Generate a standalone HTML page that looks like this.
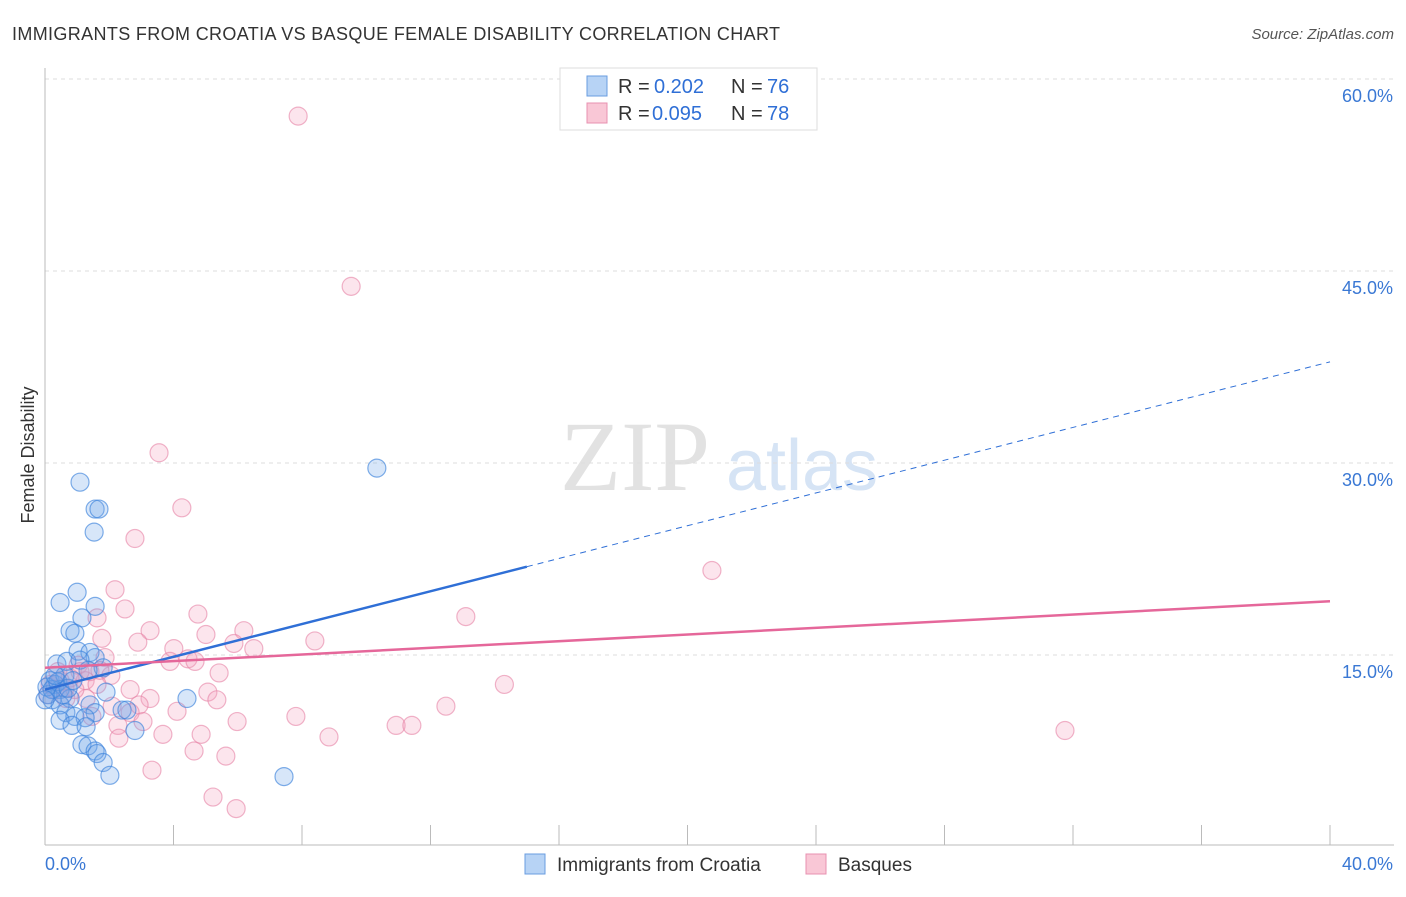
<!DOCTYPE html>
<html><head><meta charset="utf-8"><style>
body{margin:0;background:#fff;font-family:"Liberation Sans",sans-serif;}
</style></head><body>
<svg id="c" width="1406" height="892" xmlns="http://www.w3.org/2000/svg" font-family="Liberation Sans, sans-serif">
<text x="12" y="40" font-size="18" fill="#333" textLength="768">IMMIGRANTS FROM CROATIA VS BASQUE FEMALE DISABILITY CORRELATION CHART</text>
<text x="1394" y="39" font-size="15" fill="#555" font-style="italic" text-anchor="end">Source: ZipAtlas.com</text>
<text x="635" y="490" font-size="100" fill="#e2e2e2" style="font-family:'Liberation Serif',serif" text-anchor="middle">ZIP</text>
<text x="802" y="490" font-size="72" fill="#d6e4f5" text-anchor="middle">atlas</text>
<g id="grid"></g>
<g id="axes"></g>
<g id="pts"></g>
<g id="lines"></g>
<text x="34" y="455" font-size="18" fill="#333" text-anchor="middle" transform="rotate(-90 34 455)">Female Disability</text>
<g>
<rect x="560" y="68" width="257" height="62" fill="#fff" stroke="#ddd"/>
<rect x="587" y="76" width="20" height="20" fill="#b7d3f5" stroke="#6a9de0"/>
<text x="618" y="93" font-size="20" fill="#333">R = </text><text x="654" y="93" font-size="20" fill="#2f6fd6">0.202</text>
<text x="731" y="93" font-size="20" fill="#333">N = </text><text x="767" y="93" font-size="20" fill="#2f6fd6">76</text>
<rect x="587" y="103" width="20" height="20" fill="#f9c7d6" stroke="#e890b0"/>
<text x="618" y="120" font-size="20" fill="#333">R = </text><text x="652" y="120" font-size="20" fill="#2f6fd6">0.095</text>
<text x="731" y="120" font-size="20" fill="#333">N = </text><text x="767" y="120" font-size="20" fill="#2f6fd6">78</text>
</g>
<g>
<rect x="525" y="854" width="20" height="20" fill="#b7d3f5" stroke="#6a9de0"/>
<text x="557" y="871" font-size="19" fill="#333">Immigrants from Croatia</text>
<rect x="806" y="854" width="20" height="20" fill="#f9c7d6" stroke="#e890b0"/>
<text x="838" y="871" font-size="19" fill="#333">Basques</text>
</g>
</svg>
<script>
const yTicks=[15,30,45,60];
const xTicks=[0,4,8,12,16,20,24,28,32,36,40];
const blueX=[1.09,1.56,1.68,1.53,10.33,1.0,0.47,1.56,1.15,0.78,0.93,1.03,1.4,1.56,0.37,0.68,1.09,1.81,1.34,0.16,0.31,0.47,0.62,0.09,0.22,0.78,0.47,1.9,4.42,1.4,1.56,0.65,0.93,1.25,2.4,2.55,0.47,0.84,1.28,2.8,1.15,1.34,1.56,1.62,1.81,2.02,7.44,0.06,0.22,0.4,0.56,0.72,0.87,0,0.31];
const blueY=[28.5,26.4,26.4,24.6,29.6,19.9,19.1,18.8,17.9,16.9,16.7,15.3,15.2,14.8,14.3,14.5,14.6,14.0,13.8,13.0,12.7,12.3,13.4,11.9,11.5,11.6,11.1,12.1,11.6,11.1,10.5,10.5,10.2,10.1,10.7,10.7,9.9,9.5,9.4,9.1,8.0,7.9,7.5,7.3,6.6,5.6,5.5,12.5,12.3,12.9,11.9,12.4,13.0,11.5,13.4];
const pinkX=[7.88,9.53,3.55,4.26,2.8,20.76,2.18,2.49,1.62,4.76,13.1,3.27,6.19,5.01,1.77,2.89,5.88,6.5,8.4,4.01,4.45,4.67,3.89,1.87,1.03,5.42,14.3,2.05,1.25,1.62,2.65,5.07,3.27,5.35,1.28,2.93,12.48,2.09,2.65,4.11,1.46,7.81,5.98,3.05,2.27,10.93,11.42,4.86,3.67,2.3,8.84,31.75,4.64,5.63,3.33,5.23,5.95,0.16,0.31,0.47,0.62,0.78,0.93,0.09,0.4,1.09,0.65,1.4,1.71];
const pinkY=[57.1,43.8,30.8,26.5,24.1,21.6,20.1,18.6,17.9,18.2,18.0,16.9,16.9,16.6,16.3,16.0,15.9,15.5,16.1,15.5,14.7,14.5,14.5,14.8,14.2,13.6,12.7,13.4,13.0,12.7,12.3,12.1,11.6,11.5,11.6,11.1,11.0,11.0,10.5,10.6,10.2,10.2,9.8,9.8,9.5,9.5,9.5,8.8,8.8,8.5,8.6,9.1,7.5,7.1,6.0,3.9,3.0,12.7,12.3,13.0,12.4,13.2,12.3,11.9,13.7,13.7,11.6,13.7,13.8];
const blueTrend=[12.3,37.9];
const pinkTrend=[14.0,19.2];
const blueSolidEnd=15.0;
const NS="http://www.w3.org/2000/svg";
const sx=v=>45+v*32.125, sy=v=>847-v*12.8;
function mk(t,a,p){const e=document.createElementNS(NS,t);for(const k in a)e.setAttribute(k,a[k]);p.appendChild(e);return e;}
const grid=document.getElementById('grid'),axes=document.getElementById('axes'),pts=document.getElementById('pts'),lines=document.getElementById('lines');
yTicks.forEach(t=>{
 const l=mk('line',{x1:45,x2:1394,y1:sy(t),y2:sy(t),stroke:'#ddd','stroke-dasharray':'4,4'},grid);
 
 
 const tx=mk('text',{x:1393,y:sy(t)+23,'font-size':18,fill:'#3a78d4','text-anchor':'end'},axes);
 tx.textContent=t.toFixed(1)+'%';
 
 
});
mk('line',{x1:45,x2:45,y1:68,y2:845,stroke:'#bbb'},axes);
mk('line',{x1:45,x2:1394,y1:845,y2:845,stroke:'#bbb'},axes);
xTicks.forEach(t=>{if(t>0){const l=mk('line',{x1:sx(t),x2:sx(t),y1:825,y2:845,stroke:'#bbb'},axes);
 
 }});
let a=mk('text',{x:45,y:870,'font-size':18,fill:'#3a78d4'},axes);a.textContent=xTicks[0].toFixed(1)+'%';


a=mk('text',{x:1393,y:870,'font-size':18,fill:'#3a78d4','text-anchor':'end'},axes);a.textContent=xTicks[xTicks.length-1].toFixed(1)+'%';


pinkX.forEach((x,i)=>{const c=mk('circle',{cx:sx(x),cy:sy(pinkY[i]),r:9,fill:'rgba(244,160,190,0.28)',stroke:'rgba(230,130,165,0.6)','stroke-width':1.2},pts);
 
 });
blueX.forEach((x,i)=>{const c=mk('circle',{cx:sx(x),cy:sy(blueY[i]),r:9,fill:'rgba(110,165,235,0.28)',stroke:'rgba(60,130,220,0.65)','stroke-width':1.2},pts);
 
 });
const by=x=>blueTrend[0]+(blueTrend[1]-blueTrend[0])*x/40;
let l=mk('line',{x1:sx(0),y1:sy(by(0)),x2:sx(blueSolidEnd),y2:sy(by(blueSolidEnd)),stroke:'#2f6fd6','stroke-width':2.5},lines);


l=mk('line',{x1:sx(blueSolidEnd),y1:sy(by(blueSolidEnd)),x2:sx(40),y2:sy(by(40)),stroke:'#2f6fd6','stroke-width':1,'stroke-dasharray':'6,5'},lines);


l=mk('line',{x1:sx(0),y1:sy(pinkTrend[0]),x2:sx(40),y2:sy(pinkTrend[1]),stroke:'#e5679a','stroke-width':2.5},lines);


</script>
</body></html>
